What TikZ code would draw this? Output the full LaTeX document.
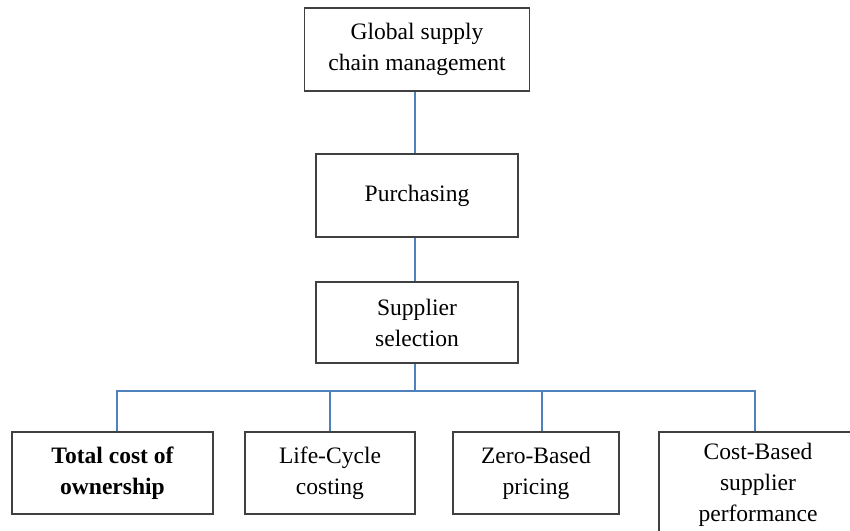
\documentclass[tikz,border=0pt]{standalone}
\usepackage{fontspec}
\setmainfont{Liberation Serif}
\definecolor{linkblue}{HTML}{4F81BD}
\definecolor{boxgray}{HTML}{404040}

\begin{document}
\begin{tikzpicture}[x=0.02cm,y=-0.02cm]
    \tikzstyle{box}=[rectangle,draw=boxgray,line width=0.9pt,fill=white,align=center,inner sep=2pt,font=\fontsize{13.4}{17.6}\selectfont]
    \tikzstyle{link}=[draw=linkblue,line width=1.7pt]
    \clip (0,0) rectangle (850,531);

    \node[box,minimum width=225*0.02cm,minimum height=83*0.02cm] (gscm) at (417,49.5) {Global supply\\chain management};
    \node[box,minimum width=202*0.02cm,minimum height=83*0.02cm] (purch) at (417,195.5) {Purchasing};
    \node[box,minimum width=202*0.02cm,minimum height=81*0.02cm] (sel) at (417,322.5) {Supplier\\selection};

    \node[box,minimum width=201*0.02cm,minimum height=82*0.02cm,font=\fontsize{13.4}{17.6}\selectfont\bfseries] (tco) at (112.5,473) {Total cost of\\ownership};
    \node[box,minimum width=170*0.02cm,minimum height=82*0.02cm] (lcc) at (330,473) {Life-Cycle\\costing};
    \node[box,minimum width=166*0.02cm,minimum height=82*0.02cm] (zbp) at (536,473) {Zero-Based\\pricing};
    \node[box,minimum width=198*0.02cm,minimum height=106*0.02cm] (cbs) at (758,485) {Cost-Based\\supplier\\performance};

    \draw[link] ([xshift=-2*0.02cm]gscm.south) -- ([xshift=-2*0.02cm]purch.north);
    \draw[link] ([xshift=-2*0.02cm]purch.south) -- ([xshift=-2*0.02cm]sel.north);
    \coordinate (bus) at ([xshift=-2*0.02cm]sel.south |- 0,391);
    \draw[link] ([xshift=-2*0.02cm]sel.south) -- (bus);

    % drops sit a little off the box centres, as in the original
    \foreach \to/\dx in {tco/4.5, lcc/0, zbp/6, cbs/-3}
        \draw[link] (bus) -| ([xshift=\dx*0.02cm]\to.north);
\end{tikzpicture}
\end{document}
